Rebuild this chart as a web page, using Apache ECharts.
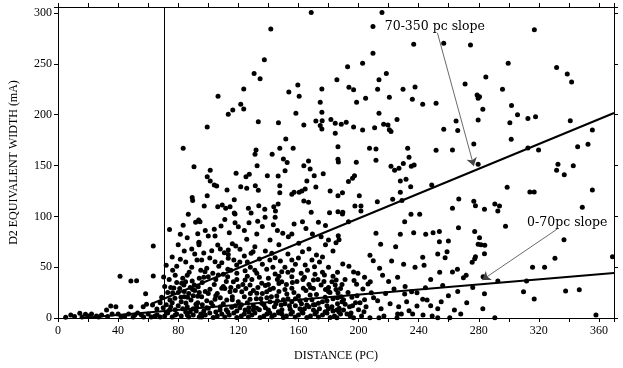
<!DOCTYPE html>
<html lang="en">
<head>
<meta charset="UTF-8">
<title>D2 equivalent width vs distance</title>
<script src="https://cdn.jsdelivr.net/npm/echarts@6/dist/echarts.min.js"></script>
<style>
  html, body { margin: 0; padding: 0; background: #fff; }
</style>
</head>
<body>
<div id="chart" style="width:623px;height:368px"></div>
<script>
// [distance (pc), D2 equivalent width (mA)]
var highStars = [
  [168.5,300.5],[141.6,284.4],[137.3,254.2],[130.5,240.5],[134.5,235.5],[123.6,225.4],[106.5,218.2],[159.6,229.3],
  [153.6,222.4],[160.5,218.2],[175.6,225.4],[185.6,234.3],[174.5,212.3],[121.6,210.3],[116.3,204.7],[123.6,205.7],
  [215.6,300.5],[209.6,286.7],[236.7,269.4],[256.7,270.4],[274.5,268.7],[209.6,260.5],[202.7,250.7],[192.7,247.3],
  [218.5,240.5],[213.6,234.3],[193.6,227],[196.7,224.7],[212.7,225],[229.6,225],[237.6,227.4],[270.9,230.3],
  [278.9,219.5],[279.6,216.2],[198.7,212.3],[204.7,216.2],[220.5,217.2],[235.8,215.3],[242.7,210.3],[251.6,211.3],
  [317,283.5],[299.6,250.7],[331.8,246.4],[338.9,240.2],[341.8,232.3],[284.7,237.2],[295.8,225],[280.5,217.8],
  [301.8,209],[282.7,205.4],[83.3,167],[90.5,148.9],[113.3,200.5],[99.3,188],[133.3,193.2],[146.7,192.2],
  [158.3,201.5],[175.6,202.5],[163.6,190],[171.6,193.9],[175.8,194.2],[174.5,189.3],[175.6,186],[181.6,195.2],
  [184.5,191.6],[184.5,181.8],[151.6,176.2],[131.8,165.4],[131.1,161.1],[142.5,161.1],[147.6,167],[156.5,167],
  [150,156.5],[152.5,152.9],[132.5,149.9],[186.3,168.6],[186.3,156.2],[186.6,153.5],[163.6,149.9],[166.7,154.5],
  [213.6,201.5],[188.5,190.6],[191.8,192.6],[196.7,188],[202.7,185],[210.7,187.3],[216.7,190.6],[219.6,190],
  [220.5,185.3],[221.6,183.4],[225.6,195.2],[256.7,185.7],[264.9,193.9],[266,184.4],[279.6,194.9],[207.3,167],
  [211.6,166.3],[232.7,167],[251.6,165],[262.5,165.4],[276.7,171.3],[211.6,155.2],[198.5,153.2],[233.6,158.2],
  [237,150.5],[279.6,151.3],[305.8,200.1],[300.7,192.2],[312.7,196.2],[317.8,198.1],[340.9,194.2],[355.6,185],
  [301.6,175.9],[312.7,167.3],[319.8,165.4],[345.8,168.6],[352.7,171],[332.7,151.3]
];

var midStars = [
  [89.3,118.5],[89.6,115.5],[86.7,102],[101.3,145.4],[167.8,146.7],[221.6,149.3],[224,145.4],[226.9,147.3],
  [229.8,151.9],[235.1,149.3],[99.3,139.1],[101.3,134.8],[104,130.9],[105.6,129.9],[118.5,142.4],[125.1,139.1],
  [127.3,141.4],[139.3,140],[146.5,139.8],[151.1,145],[170.5,140],[176.5,142],[165.6,134.8],[121.6,129.2],
  [125.6,127.6],[131.3,130.2],[133.3,125.7],[147.6,130.2],[112.5,126],[99.3,120.4],[117.3,116.4],[97.3,110.2],
  [106.3,109.5],[109.3,111.2],[111.6,108],[114.5,109.5],[117.3,103.3],[126.7,108],[128.5,103.3],[133.6,110.5],
  [137.6,107],[143.6,109.5],[144.7,105.3],[146.5,112.2],[147.6,123.3],[155.6,121.8],[157.1,123.7],[160.5,123.7],
  [162.3,125],[164.5,127],[163.6,115.2],[166.7,113.9],[171.6,128.9],[181.1,125],[186.3,120.4],[168.5,104],
  [180.7,103.6],[186.3,104.6],[197.3,140],[196,137.5],[193.3,134.2],[227.8,134.8],[231.6,136.5],[234.7,129.2],
  [248.7,130.9],[227.8,123.7],[189.3,123.3],[200.5,120.4],[212.5,114.5],[222.7,116.8],[228.9,115.5],[197.6,110.2],
  [201.6,110.2],[201.6,105.3],[189.5,104],[234.9,102],[240.7,102],[262.5,108],[266.7,117.1],[276.7,114.8],
  [277.8,110.5],[331.8,145.4],[336.9,141],[342.9,149.9],[298.9,128.6],[314,124],[316.9,124],[355.6,126],
  [283.8,107],[290.7,112.2],[293.8,110.2],[292.7,105.3],[348.9,109]
];

var lowStars = [
  [189.3,102.4],[193.3,94.8],[230.7,94.8],[186.5,81],[187,77],[185,74],[211.6,83.4],[214.7,72.5],
  [227.8,82.4],[236.7,84],[244.7,82.4],[249.6,84],[253.8,85],[253.8,75.1],[259.8,75.8],[266.5,88.9],
  [277.3,85],[279.6,72.5],[224.7,70.2],[252.7,63],[258.9,65.3],[257.6,59.4],[242.7,59.7],[243.6,51.9],
  [237.6,49.9],[207.6,61.7],[209.8,56.4],[189.5,53.1],[193.6,50.9],[196.7,45.3],[199.6,44],[275.6,54.8],
  [277.3,58.4],[262.5,45.3],[265.8,47.9],[269.8,39.7],[271.6,42],[185.1,37.4],[198.7,33.2],[202.9,28.5],
  [206.3,33.5],[207.8,35.7],[208.5,24.9],[223.6,28.5],[186.3,24.9],[188.5,21],[195.6,20.4],[230.7,23.6],
  [235.3,25.9],[238.9,24.9],[244.5,29.8],[212.7,17],[242.7,18.4],[245.6,17.7],[259.8,21.9],[226.7,11.1],
  [238.9,11.8],[252.7,9.2],[263.8,7.9],[203.6,6.2],[226,3.9],[233.6,7.2],[228.5,3.9],[242.9,3],
  [207.6,0.3],[213.6,0.3],[216.9,2],[225.6,0.3],[252.7,0.3],[260.7,0.3],[187.1,9.5],[190,7.9],
  [192.3,3.9],[194.5,2],[196.7,0.3],[185.6,0.3],[191.1,13.5],[189,16],[194,11],
  [297.8,90.3],[336.7,77.1],[280.5,79],[281.5,72],[284,71.5],[283.8,63.3],[277.8,60.3],[330.7,58.8],
  [369,60.3],[315.8,49.9],[323.8,49.9],[282.9,40.7],[292.7,36.4],[311.8,36.4],[283.8,23.9],[309.8,25.9],
  [316.9,18.7],[337.8,26.6],[346.9,27.9],[282.7,9.2],[290.7,0.3],[358,3]
];

var nearStars = [
  [83.3,91.2],[91.6,94.2],[93.6,96.5],[74.2,87],[81.4,82.4],[63.4,70.9],[93.8,74.5],[93.8,72],
  [81.4,57.8],[92.5,57.1],[76.3,46.9],[41.3,41],[63.4,41.3],[70.3,40.4],[48.5,36.4],[52.3,36.7],
  [87.3,45],[86,42],[58.3,23.9],[77.1,29.5],[76.3,24.9],[83.8,32.5],[84.9,35.7],[89.3,36.4],
  [90.7,32.5],[94,39],[35.1,11.8],[38.5,11.1],[32.3,7.9],[48.5,11.1],[56.7,11.1],[58.9,13.5],
  [62.9,12.8],[65.8,8.9],[14.5,4.6],[8.5,3],[5.1,0.7],[18.3,3.6],[22.3,3.9],[25.6,2],
  [29,3],[40,3.9],[44.5,2],[51.1,3],[55.5,3],[64.5,2],[69,20.4],[74.5,17.7],
  [77.8,19.4],[81.8,20.4],[86.2,20.4],[89.6,28],[82.3,34.1],[85.1,14.8],[88.5,17.7],[92.9,31.2],
  [93,21.3],[91.8,13.5],[74.2,7.9],[11,1.5],[16,1],[20,2],[27,1],[33,1.5],
  [36,4],[42,1],[47,4],[50,1],[53,5],[57,1],[60,4],[62,1],
  [66,3],[68,1],[71,2],[73,5],[76,1],[79,4],[82,2],[85,6],
  [87,1],[90,3],[92,7],[94,1],[70,10],[72,13],[75,11],[78,8],
  [80,12],[83,9],[86,11],[88,6],[90,9],[93,15],[72,6],[76,15],
  [80,25],[84,26],[87,24],[90,22],[78,3],[82,16],[86,3],[68,15]
];

var denseStars = [
  [117.8,102.4],[137.8,99.1],[144.5,99.1],[94.5,94.8],[108.5,90.6],[117.8,93.8],[127.1,93.8],[132.9,95.2],
  [143.3,91.8],[157.1,92.5],[162.7,94.8],[173.3,94.2],[104,87.3],[114,84],[120,89.9],[100,80.7],
  [104.5,80.7],[132.3,82.7],[141.1,76.8],[149.6,83.4],[153.3,80],[155.6,82.7],[160.2,73.5],[169.3,82.7],
  [175.1,80],[180,76.8],[125.6,77.5],[93.8,74.1],[106.3,71.9],[113.3,66.9],[118.3,70.9],[102.3,66.2],
  [110.7,64.3],[113.3,62.5],[121.1,67.6],[128.5,63.7],[129.8,65.3],[142.3,63.7],[144.5,59.4],[155.6,57.1],
  [162.7,65.3],[164.5,52.2],[170.7,50.5],[177.3,42.3],[182.3,35.7],[95.6,57.1],[104.5,55.4],[109,54.4],
  [113.3,58.8],[118.9,52.2],[124.5,46.6],[132.3,44],[138.9,47.9],[144.5,43.3],[148.9,45.6],[155.6,40.7],
  [161.8,44],[170,37.4],[97.8,45.6],[100,40.7],[106.7,42.3],[112.9,40.7],[116.7,35.7],[124.5,37.4],
  [127.8,32.5],[135.6,34.1],[140,39],[143.3,29.2],[148.9,35.7],[155.6,29.2],[163.3,29.2],[175.1,32.5],
  [184.5,32.5],[93.3,30.8],[101.1,28.2],[109,29.2],[114.5,25.9],[122.3,25.9],[132.3,24.3],[138.9,25.9],
  [145.6,21.7],[152.3,23.6],[160,21.7],[167.8,22.6],[177.8,20.4],[95.6,21],[104.5,18.4],[112.3,17.7],
  [120,16],[127.8,18.4],[135.6,14.5],[141.1,16],[148.5,12.8],[155.6,16],[165.6,12.8],[173.3,14.5],
  [182.3,11.1],[92.3,11.1],[100,9.5],[107.8,7.9],[115.6,10.5],[124.5,7.9],[132.3,9.5],[140,7.9],
  [146.7,6.2],[154.5,8.5],[162.3,6.2],[170,7.9],[177.8,6.2],[185.6,7.9],[95.6,1],[103.3,0.5],
  [111,1],[119,0.5],[126.7,1],[134.5,0.5],[142.3,1],[150,0.5],[157.8,1],[165.6,0.5],
  [173.3,1],[181.1,0.5],[98,3],[101,5],[106,2],[109,4],[114,3],[117,5],
  [122,2],[124,4],[129,3],[131,5],[137,2],[139,4],[144,3],[147,5],
  [152,2],[155,4],[160,3],[163,5],[168,2],[171,4],[176,3],[179,5],
  [184,2],[188,4],[96,13],[103,12],[110,14],[118,12],[122,13],[130,12],
  [137,13],[144,11],[151,14],[158,12],[167,11],[171,13],[179,12],[186,14],
  [98,26],[106,24],[111,29],[118,27],[125,29],[130,27],[136,24],[141,28],
  [147,26],[157,25],[165,27],[170,29],[180,26],[185,28],[99,49],[107,51],
  [115,47],[121,55],[128,50],[136,53],[141,57],[151,50],[158,53],[166,47],
  [174,55],[180,50],[97,64],[108,68],[116,73],[124,61],[131,70],[138,66],
  [147,72],[153,63],[167,68],[172,62],[178,72],[183,66],[98,86],[111,97],
  [124,86],[136,90],[146,86],[165,88],[178,91]
];

var fillStars = [
  [97,7],[105,6],[112,8],[119,7],[127,6],[134,8],[141,5],[149,8],[156,6],[164,9],[172,6],[180,9],
  [187,6],[195,5],[200,8],[99,17],[108,20],[116,18],[124,21],[132,19],[139,20],[146,17],[153,19],
  [161,17],[169,18],[176,16],[183,19],[190,18],[198,15],[96,35],[104,33],[112,36],[120,31],[129,38],
  [138,32],[146,38],[152,33],[159,36],[167,33],[173,38],[180,30],[189,33],[197,37],[103,44],[110,43],
  [119,44],[126,41],[134,40],[147,41],[153,45],[164,40],[176,45],[183,41],[101,59],[117,57],[126,55],
  [134,58],[148,56],[160,59],[169,57],[176,60],[73,25],[75,30],[79,35],[81,29],[84,21],[88,30],
  [91,27],[94,25],[71,31],[74,38],[78,42],[83,39],[89,50],[95,47],[72,52],[79,51],[85,55],
  [91,63],[84,66],[76,60],[93,83],[86,79],[80,72],[89,68],[201,15],[205,11],[210,20],[215,9],
  [218,24],[221,14],[232,16],[236,4],[248,12],[249,2],[255,16],[268,4],[272,15],[204,40],[216,42],
  [220,36],[226,40],[231,31],[248,38],[254,45],[214,49],[222,56],[230,53],[256,32],[266,26],[276,30],
  [95,4],[99,10],[102,15],[105,22],[108,11],[110,31],[113,6],[116,21],[119,38],[121,10],[123,33],[126,15],
  [128,24],[130,8],[133,30],[135,19],[138,10],[140,33],[142,21],[145,14],[147,34],[149,4],[151,28],[154,12],
  [156,35],[158,19],[161,9],[163,38],[165,18],[168,30],[170,13],[172,23],[174,9],[177,36],[179,17],[181,25],
  [183,7],[186,20],[188,29],[191,38],[193,25],[196,12],[199,22],[202,2],[204,18],[97,40],[105,38],[113,48],
  [131,47],[143,50],[156,47],[171,43],[186,45],[115,30],[127,10],[150,18],[162,14],[178,28],[100,24]
];

// fitted slopes, end points [distance, width]
var fitFar = [[62, 13.8], [370, 201.7]];
var fitNear = [[16, 0], [370, 44.3]];
var cutDistance = 71;

// annotation arrows: from text to line
var arrowFar = [[252.5, 280.5], [276.7, 149.6]];
var arrowNear = [[332.3, 87.6], [282.3, 37.4]];
var noteLabels = [
  { name: '70-350 pc slope', value: [250.8, 286.7] },
  { name: '0-70pc slope', value: [338.9, 94.2] }
];

var xTicks = { min: 0, max: 370, step: 20, labelStep: 40 };
var yTicks = { min: 0, max: 306, step: 50 };

var chart = echarts.init(document.getElementById('chart'));

var axisFont = 'Liberation Serif';
var lineBlack = { color: '#000', width: 1 };

function xAxisOf(pos, labels) {
  return {
    type: 'value', position: pos,
    min: xTicks.min, max: xTicks.max, interval: xTicks.step,
    axisLine: { show: true, onZero: false, lineStyle: lineBlack },
    axisTick: { show: true, inside: false, length: 4, lineStyle: lineBlack },
    axisLabel: {
      show: labels, color: '#000', fontFamily: axisFont, fontSize: 12, margin: 7,
      formatter: function (v) { return v % xTicks.labelStep === 0 ? String(v) : ''; }
    },
    splitLine: { show: false }
  };
}
function yAxisOf(pos, labels) {
  return {
    type: 'value', position: pos,
    min: yTicks.min, max: yTicks.max, interval: yTicks.step,
    axisLine: { show: true, onZero: false, lineStyle: lineBlack },
    axisTick: { show: true, inside: false, length: 4, lineStyle: lineBlack },
    axisLabel: {
      show: labels, color: '#000', fontFamily: axisFont, fontSize: 12, margin: 6,
      formatter: function (v) { return v % yTicks.step === 0 ? String(v) : ''; }
    },
    splitLine: { show: false }
  };
}

var xBottom = xAxisOf('bottom', true);
xBottom.name = 'DISTANCE (PC)';
xBottom.nameLocation = 'middle';
xBottom.nameGap = 32;
xBottom.nameTextStyle = { color: '#000', fontFamily: axisFont, fontSize: 12 };

var yLeft = yAxisOf('left', true);
yLeft.name = 'D2 EQUIVALENT WIDTH (mA)';
yLeft.nameLocation = 'middle';
yLeft.nameGap = 38;
yLeft.nameTextStyle = { color: '#000', fontFamily: axisFont, fontSize: 12 };

var dotStyle = { color: '#000', opacity: 1 };
function dots(arr) {
  return {
    type: 'scatter', xAxisIndex: 0, yAxisIndex: 0,
    symbol: 'circle', symbolSize: 5, itemStyle: dotStyle,
    silent: true, data: arr
  };
}

var cutSeries = dots(denseStars);
cutSeries.markLine = {
  silent: true, symbol: 'none', animation: false,
  label: { show: false },
  lineStyle: { color: '#000', width: 1, type: 'solid', opacity: 1 },
  data: [{ xAxis: cutDistance }]
};

var option = {
  animation: false,
  backgroundColor: '#fff',
  grid: { left: 58, right: 9, top: 7, bottom: 50, containLabel: false },
  xAxis: [xBottom, xAxisOf('top', false)],
  yAxis: [yLeft, yAxisOf('right', false)],
  series: [
    dots(highStars),
    dots(midStars),
    dots(lowStars),
    dots(nearStars),
    dots(fillStars),
    cutSeries,
    {
      type: 'line', xAxisIndex: 0, yAxisIndex: 0, silent: true,
      symbol: 'none', lineStyle: { color: '#000', width: 2, opacity: 1 }, data: fitFar
    },
    {
      type: 'line', xAxisIndex: 0, yAxisIndex: 0, silent: true,
      symbol: 'none', lineStyle: { color: '#000', width: 2, opacity: 1 }, data: fitNear
    },
    {
      type: 'scatter', xAxisIndex: 0, yAxisIndex: 0, silent: true,
      symbolSize: 0, itemStyle: { opacity: 1 }, data: noteLabels,
      label: {
        show: true, position: 'inside', color: '#000',
        fontFamily: 'DejaVu Serif', fontSize: 12.5,
        formatter: function (p) { return p.name; }
      },
      markLine: {
        silent: true, animation: false,
        symbol: ['none', 'arrow'], symbolSize: 8,
        label: { show: false },
        lineStyle: { color: '#444', width: 0.8, type: 'solid', opacity: 1 },
        data: [
          [{ coord: arrowFar[0] }, { coord: arrowFar[1] }],
          [{ coord: arrowNear[0] }, { coord: arrowNear[1] }]
        ]
      }
    }
  ]
};

chart.setOption(option);
</script>
</body>
</html>
